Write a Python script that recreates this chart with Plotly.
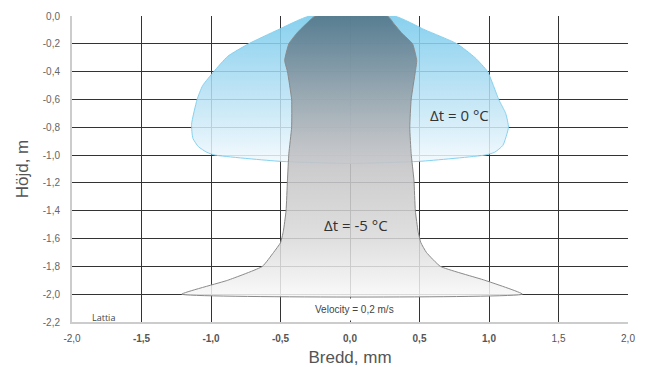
import plotly.graph_objects as go

# Δt = 0 °C outline (blue), closed polygon (x in mm, y in m)
blue_x = [-0.29, -0.52, -0.73, -0.88, -0.98, -1.06, -1.10, -1.14, -1.13, -1.09, -1.03, -0.97, -0.5, 0.0, 0.5, 0.97, 1.04, 1.10, 1.14, 1.12, 1.07, 0.99, 0.90, 0.77, 0.54, 0.32, -0.29]
blue_y = [0.0, -0.10, -0.20, -0.29, -0.40, -0.50, -0.60, -0.78, -0.88, -0.94, -0.98, -1.00, -1.045, -1.06, -1.045, -1.00, -0.98, -0.93, -0.80, -0.70, -0.60, -0.40, -0.30, -0.20, -0.10, 0.0, 0.0]

# Δt = -5 °C outline (gray), closed polygon
gray_x = [-0.25, -0.32, -0.38, -0.44, -0.47, -0.45, -0.42, -0.42, -0.44, -0.45, -0.46, -0.48, -0.50, -0.55, -0.63, -0.88, -1.21,
          1.24, 0.97, 0.65, 0.55, 0.51, 0.49, 0.47, 0.46, 0.44, 0.43, 0.44, 0.47, 0.48, 0.45, 0.37, 0.32, 0.27, -0.25]
gray_y = [0.0, -0.06, -0.12, -0.20, -0.32, -0.40, -0.60, -0.80, -0.99, -1.18, -1.40, -1.55, -1.63, -1.70, -1.80, -1.90, -2.00,
          -2.00, -1.90, -1.80, -1.70, -1.63, -1.55, -1.40, -1.18, -0.99, -0.80, -0.60, -0.40, -0.32, -0.20, -0.12, -0.06, 0.0, 0.0]

x_ticks = [-2.0, -1.5, -1.0, -0.5, 0.0, 0.5, 1.0, 1.5, 2.0]
x_labels = ["-2,0", "<b>-1,5</b>", "<b>-1,0</b>", "<b>-0,5</b>", "<b>0,0</b>", "<b>0,5</b>", "<b>1,0</b>", "1,5", "2,0"]
y_ticks = [0.0, -0.2, -0.4, -0.6, -0.8, -1.0, -1.2, -1.4, -1.6, -1.8, -2.0, -2.2]
y_labels = ["0,0", "-0,2", "-0,4", "-0,6", "-0,8", "-1,0", "-1,2", "-1,4", "-1,6", "-1,8", "-2,0", "-2,2"]

fig = go.Figure()

fig.add_trace(go.Scatter(
    x=blue_x, y=blue_y, mode="lines", fill="toself",
    line=dict(color="#86d2f0", width=1, shape="spline", smoothing=0.5),
    fillgradient=dict(type="vertical",
                      colorscale=[[0, "rgba(242,249,253,0.85)"], [0.5, "rgba(176,222,243,0.85)"], [1, "rgba(118,202,236,0.88)"]]),
    hoverinfo="skip", showlegend=False))

fig.add_trace(go.Scatter(
    x=gray_x, y=gray_y, mode="lines", fill="toself",
    line=dict(color="#8a8a8a", width=1, shape="spline", smoothing=0.4),
    fillgradient=dict(type="vertical",
                      colorscale=[[0, "rgba(248,248,248,0.85)"], [0.2, "rgba(218,218,218,0.85)"],
                                  [0.45, "rgba(198,198,200,0.88)"], [0.55, "rgba(184,186,190,0.88)"],
                                  [0.72, "rgba(148,162,171,0.9)"], [0.9, "rgba(104,132,148,0.9)"],
                                  [1, "rgba(82,118,136,0.92)"]]),
    hoverinfo="skip", showlegend=False))

fig.add_annotation(x=0.79, y=-0.71, text="Δt = 0 °C", showarrow=False,
                   font=dict(family="Open Sans", size=15, color="#333333"))
fig.add_annotation(x=0.04, y=-1.50, text="Δt = -5 °C", showarrow=False,
                   font=dict(family="Open Sans", size=15, color="#333333"))
fig.add_annotation(x=0.03, y=-2.11, text="Velocity = 0,2 m/s", showarrow=False,
                   font=dict(family="Liberation Sans", size=10, color="#444444"),
                   bgcolor="white", borderpad=5)
fig.add_annotation(x=-1.77, y=-2.17, text="Lattia", showarrow=False,
                   font=dict(family="Open Sans", size=9, color="#444444"))

# page body adds an 8px offset, so the figure is sized to fit the window
fig.update_layout(
    width=638, height=359,
    margin=dict(l=64, r=18, t=8, b=45),
    plot_bgcolor="white", paper_bgcolor="white",
    font=dict(family="Liberation Sans", color="#666666"),
    xaxis=dict(range=[-2.0, 2.0], tickvals=x_ticks, ticktext=x_labels, automargin=False,
               showgrid=True, gridcolor="#333333", gridwidth=1, zeroline=False,
               showline=True, linecolor="#cccccc", linewidth=2,
               ticks="", ticklabelstandoff=6, tickfont=dict(size=10, color="#555555"),
               title=dict(text="Bredd, mm", font=dict(size=17, color="#555555"), standoff=8)),
    yaxis=dict(range=[-2.2, 0.0], tickvals=y_ticks, ticktext=y_labels, automargin=False,
               showgrid=True, gridcolor="#333333", gridwidth=1, zeroline=False,
               showline=True, linecolor="#cccccc", linewidth=2,
               ticks="", ticklabelstandoff=8, tickfont=dict(size=10, color="#666666"),
               title=dict(text="Höjd, m", font=dict(size=17, color="#555555"), standoff=10)),
)

fig.write_html("out.html")
